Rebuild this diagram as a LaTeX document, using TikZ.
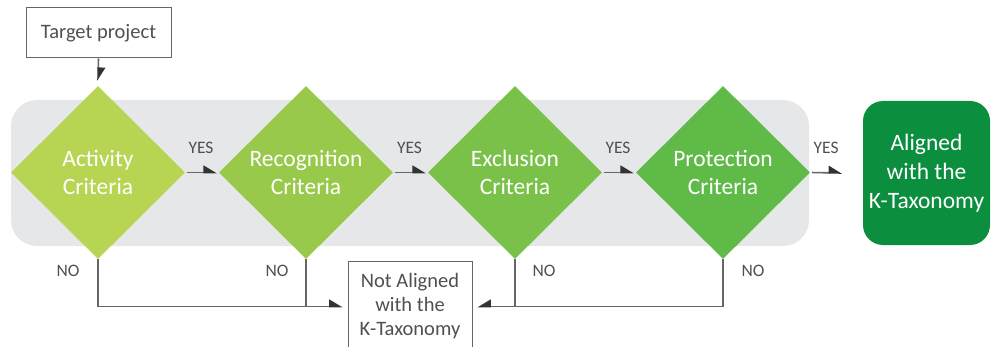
\documentclass[tikz,border=0pt]{standalone}
\usepackage{fontspec}
\setmainfont{Carlito}
\usetikzlibrary{shapes.geometric,arrows.meta,calc}
\definecolor{bggray}{HTML}{E6E7E9}
\definecolor{linegray}{HTML}{666666}
\definecolor{tipgray}{HTML}{333333}
\definecolor{textgray}{HTML}{505050}
\definecolor{cA}{HTML}{B7D452}
\definecolor{cR}{HTML}{99C94A}
\definecolor{cE}{HTML}{7AC14A}
\definecolor{cP}{HTML}{5FBA47}
\definecolor{cOK}{HTML}{0B8E3E}
\tikzset{
  crit/.style={diamond, inner sep=0pt, minimum width=174pt, minimum height=173pt,
    text=white, font=\fontsize{23.5}{28.5}\selectfont, align=center},
  outbox/.style={draw=linegray, line width=1pt, text=textgray, align=center,
    font=\fontsize{20.5}{24}\selectfont, inner sep=0pt},
  ln/.style={draw=linegray, line width=1.6pt},
  arr/.style={ln, -{Triangle[harpoon, length=12pt, width=14pt, color=tipgray]}},
  arrs/.style={ln, -{Triangle[harpoon, swap, length=12pt, width=14pt, color=tipgray]}},
  lbl/.style={text=textgray, font=\fontsize{17.5}{20}\selectfont, inner sep=0pt}
}
\begin{document}
\begin{tikzpicture}[x=1pt,y=-1pt]
\useasboundingbox (0,0) rectangle (992,347);
\clip (0,0) rectangle (992,347);
\fill[bggray, rounded corners=26pt] (11,100) rectangle (809,246);

\node[outbox, minimum width=145pt, minimum height=50pt] (tp) at (98.5,33) {Target project};

\node[crit, fill=cA] (act) at (98,172.5) {Activity\\Criteria};
\node[crit, fill=cR] (rec) at (306,172.5) {Recognition\\Criteria};
\node[crit, fill=cE] (exc) at (515,172.5) {Exclusion\\Criteria};
\node[crit, fill=cP] (pro) at (723,172.5) {Protection\\Criteria};

\node[fill=cOK, rounded corners=20pt, minimum width=127pt, minimum height=144pt,
  inner sep=0pt, text=white, align=center, font=\fontsize{23.5}{29}\selectfont]
  (ok) at (926.5,173) {Aligned\\with the\\K-Taxonomy};

\node[outbox, minimum width=124pt, minimum height=91pt] (na) at (410,306.5)
  {Not Aligned\\with the\\K-Taxonomy};

\coordinate (ytip) at (842,173);

\draw[arr] (tp.south) -- ([yshift=5pt]act.north);

\draw[arr, shorten <=2pt] (act.east) -- ([xshift=-2pt]rec.west) node[lbl, midway, yshift=25pt] {YES};
\draw[arr, shorten <=2pt] (rec.east) -- ([xshift=-2pt]exc.west) node[lbl, midway, yshift=25pt] {YES};
\draw[arr, shorten <=2pt] (exc.east) -- ([xshift=-2pt]pro.west) node[lbl, midway, yshift=25pt] {YES};
\draw[arr, shorten <=2pt] (pro.east) -- (ytip) node[lbl, midway, yshift=25pt] {YES};

\draw[arr] (act.south) |- ([xshift=-5pt]na.west);
\draw[ln] (rec.south) -- (rec.south |- na.west);
\draw[arrs] (exc.south) |- ([xshift=5pt]na.east);
\draw[ln] (pro.south) |- (exc.south |- na.east);

\node[lbl] (no1) at ($(act.south)+(-30,12)$) {NO};
\node[lbl] (no2) at ($(rec.south)+(-29,12)$) {NO};
\node[lbl] (no3) at ($(exc.south)+(29,12)$) {NO};
\node[lbl] (no4) at ($(pro.south)+(30,12)$) {NO};
\end{tikzpicture}
\end{document}
